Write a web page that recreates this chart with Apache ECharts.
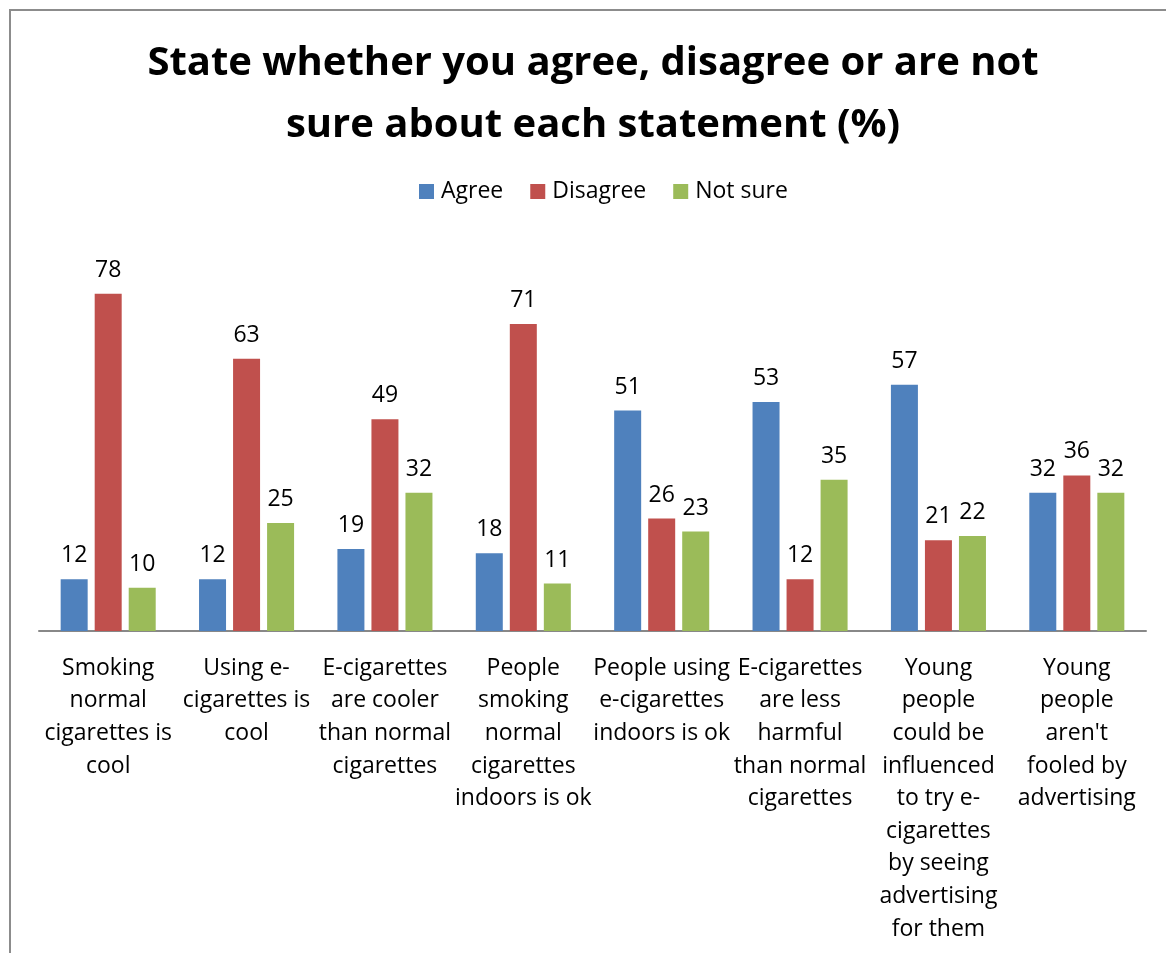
<!DOCTYPE html>
<html>
<head>
<meta charset="utf-8">
<script src="https://cdn.jsdelivr.net/npm/echarts@6/dist/echarts.min.js"></script>
<style>
  html, body { margin: 0; padding: 0; background: #fff; }
  #chart { width: 1166px; height: 953px; }
</style>
</head>
<body>
<div id="chart"></div>
<script>
// Survey statements (x-axis categories, wrapped as in the printed labels)
const categories = [
  'Smoking\nnormal\ncigarettes is\ncool',
  'Using e-\ncigarettes is\ncool',
  'E-cigarettes\nare cooler\nthan normal\ncigarettes',
  'People\nsmoking\nnormal\ncigarettes\nindoors is ok',
  'People using\ne-cigarettes\nindoors is ok',
  'E-cigarettes\nare less\nharmful\nthan normal\ncigarettes',
  'Young\npeople\ncould be\ninfluenced\nto try e-\ncigarettes\nby seeing\nadvertising\nfor them',
  "Young\npeople\naren't\nfooled by\nadvertising"
];

// Percentages per response
const agree    = [12, 12, 19, 18, 51, 53, 57, 32];
const disagree = [78, 63, 49, 71, 26, 12, 21, 36];
const notSure  = [10, 25, 32, 11, 23, 35, 22, 32];

const seriesNames = ['Agree', 'Disagree', 'Not sure'];
const seriesColors = ['#4F81BD', '#C0504D', '#9BBB59'];

const FONT = '"Open Sans", Lato, sans-serif';
const TEXT_SIZE = 23;

const chart = echarts.init(document.getElementById('chart'), null, { renderer: 'canvas' });

function barSeries(name, data, color) {
  return {
    name: name,
    type: 'bar',
    data: data,
    barWidth: 27,
    barGap: '26%',
    itemStyle: { color: color },
    label: {
      show: true,
      position: 'top',
      distance: 12,
      color: '#000',
      fontFamily: FONT,
      fontSize: TEXT_SIZE
    }
  };
}

chart.setOption({
  animation: false,
  backgroundColor: '#fff',
  title: {
    text: 'State whether you agree, disagree or are not\nsure about each statement (%)',
    left: 588,
    textAlign: 'center',
    top: 28,
    textStyle: {
      fontFamily: FONT,
      fontWeight: 'bold',
      fontSize: 40,
      lineHeight: 62,
      color: '#000'
    }
  },
  legend: {
    top: 175,
    left: 414,
    itemWidth: 15,
    itemHeight: 15,
    itemGap: 27,
    icon: 'rect',
    textStyle: { fontFamily: FONT, fontSize: TEXT_SIZE, color: '#000', padding: [0, 0, 0, 2] },
    data: seriesNames
  },
  grid: {
    left: 39,
    right: 20,
    top: 242,
    bottom: 322,
    containLabel: false
  },
  xAxis: {
    type: 'category',
    data: categories,
    axisLine: { lineStyle: { color: '#888', width: 2 } },
    axisTick: { show: false },
    axisLabel: {
      interval: 0,
      margin: 21,
      fontFamily: FONT,
      fontSize: TEXT_SIZE,
      lineHeight: 32.6,
      color: '#000',
      align: 'center'
    }
  },
  yAxis: {
    type: 'value',
    min: 0,
    max: 90,
    show: false,
    splitLine: { show: false }
  },
  graphic: [
    {
      type: 'rect',
      shape: { x: 10, y: 10, width: 1200, height: 1000 },
      style: { fill: 'none', stroke: '#8c8c8c', lineWidth: 2 },
      silent: true,
      z: -1
    }
  ],
  series: [
    barSeries(seriesNames[0], agree, seriesColors[0]),
    barSeries(seriesNames[1], disagree, seriesColors[1]),
    barSeries(seriesNames[2], notSure, seriesColors[2])
  ]
});
</script>
</body>
</html>
